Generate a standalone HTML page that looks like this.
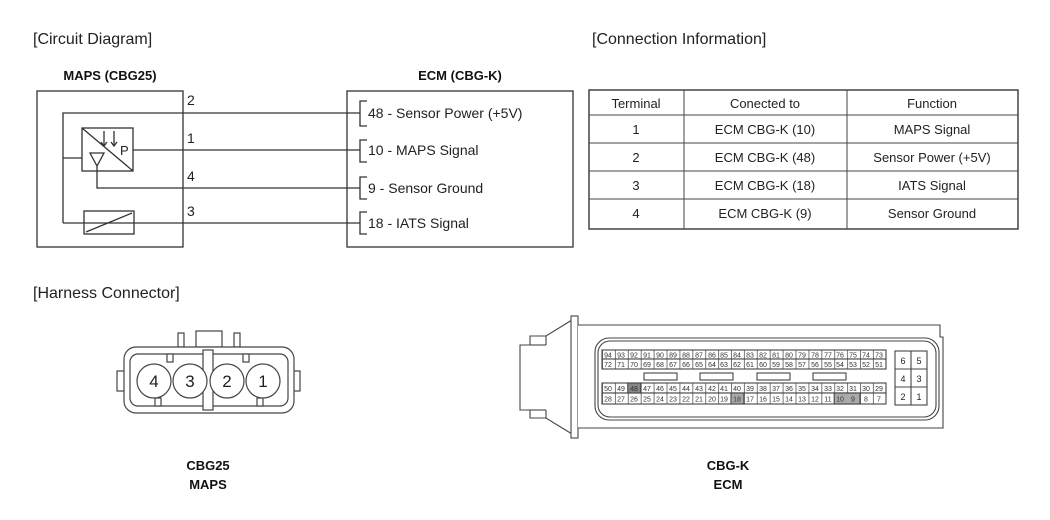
<!DOCTYPE html>
<html><head><meta charset="utf-8"><style>
html,body{margin:0;padding:0;background:#fff}
svg{display:block;font-family:"Liberation Sans",Arial,sans-serif}
</style></head><body>
<svg width="1050" height="520" viewBox="0 0 1050 520" xmlns="http://www.w3.org/2000/svg">
<defs>
<pattern id="vg" x="602" y="0" width="12.9" height="10" patternUnits="userSpaceOnUse">
<rect x="0" y="0" width="12.9" height="10" fill="#fff"/><line x1="0.5" y1="0" x2="0.5" y2="10" stroke="#555" stroke-width="0.8"/>
</pattern>
</defs>
<g fill="#222" font-size="16">
<text x="33" y="44">[Circuit Diagram]</text>
<text x="592" y="44">[Connection Information]</text>
<text x="33" y="298">[Harness Connector]</text>
</g>
<g font-weight="bold" font-size="13" fill="#111" text-anchor="middle">
<text x="110" y="80">MAPS (CBG25)</text>
<text x="460" y="80">ECM (CBG-K)</text>
<text x="208" y="470">CBG25</text><text x="208" y="489">MAPS</text>
<text x="728" y="470">CBG-K</text><text x="728" y="489">ECM</text>
</g>
<!-- circuit -->
<g stroke="#333" stroke-width="1.3" fill="none">
<rect x="37" y="91" width="146" height="156"/>
<rect x="347" y="91" width="226" height="156"/>
<polyline points="63,223 63,113 360,113"/>
<line x1="63" y1="158" x2="82" y2="158"/>
<rect x="82" y="128" width="51" height="43"/>
<line x1="82" y1="128" x2="133" y2="171"/>
<line x1="104" y1="131" x2="104" y2="146"/><line x1="114" y1="131" x2="114" y2="146"/>
<polyline points="101,142 104,146 107,142"/><polyline points="111,142 114,146 117,142"/>
<polygon points="90,153 104,153 97,166"/>
<polyline points="97,166 97,188 360,188"/>
<line x1="133" y1="150" x2="360" y2="150"/>
<rect x="84" y="211" width="50" height="23"/>
<line x1="86" y1="232" x2="132" y2="213"/>
<line x1="63" y1="223" x2="360" y2="223"/>
<polyline points="367,101 360,101 360,126 367,126"/>
<polyline points="367,140 360,140 360,162 367,162"/>
<polyline points="367,177 360,177 360,199 367,199"/>
<polyline points="367,212 360,212 360,234 367,234"/>
</g>
<g font-size="14" fill="#222">
<text x="187" y="105">2</text><text x="187" y="143">1</text><text x="187" y="181">4</text><text x="187" y="216">3</text>
<text x="120" y="155" font-size="13">P</text>
<text x="368" y="118">48 - Sensor Power (+5V)</text>
<text x="368" y="155">10 - MAPS Signal</text>
<text x="368" y="193">9 - Sensor Ground</text>
<text x="368" y="228">18 - IATS Signal</text>
</g>
<!-- table -->
<g stroke="#444" stroke-width="1" fill="none">
<rect x="589" y="90" width="429" height="139" stroke-width="1.5"/>
<line x1="589" y1="115" x2="1018" y2="115"/><line x1="589" y1="143" x2="1018" y2="143"/>
<line x1="589" y1="171" x2="1018" y2="171"/><line x1="589" y1="199" x2="1018" y2="199"/>
<line x1="684" y1="90" x2="684" y2="229"/><line x1="847" y1="90" x2="847" y2="229"/>
</g>
<g font-size="13" fill="#222" text-anchor="middle">
<text x="636" y="108">Terminal</text><text x="765" y="108">Conected to</text><text x="932" y="108">Function</text>
<text x="636" y="134">1</text><text x="765" y="134">ECM CBG-K (10)</text><text x="932" y="134">MAPS Signal</text>
<text x="636" y="162">2</text><text x="765" y="162">ECM CBG-K (48)</text><text x="932" y="162">Sensor Power (+5V)</text>
<text x="636" y="190">3</text><text x="765" y="190">ECM CBG-K (18)</text><text x="932" y="190">IATS Signal</text>
<text x="636" y="218">4</text><text x="765" y="218">ECM CBG-K (9)</text><text x="932" y="218">Sensor Ground</text>
</g>
<!-- MAPS connector -->
<g stroke="#444" stroke-width="1.2" fill="#fff">
<rect x="178" y="333" width="6" height="14"/><rect x="234" y="333" width="6" height="14"/>
<rect x="196" y="331" width="26" height="16"/>
<rect x="117" y="371" width="8" height="20"/><rect x="292" y="371" width="8" height="20"/>
<rect x="124" y="347" width="170" height="66" rx="12"/>
<rect x="130" y="354" width="158" height="52" rx="8"/>
<rect x="203" y="350" width="10" height="60"/>
<rect x="167" y="354" width="6" height="8"/><rect x="243" y="354" width="6" height="8"/>
<rect x="155" y="398" width="6" height="8"/><rect x="257" y="398" width="6" height="8"/>
<circle cx="154" cy="381" r="17"/><circle cx="190" cy="381" r="17"/>
<circle cx="227" cy="381" r="17"/><circle cx="263" cy="381" r="17"/>
</g>
<g font-size="17" fill="#222" text-anchor="middle">
<text x="154" y="387">4</text><text x="190" y="387">3</text><text x="227" y="387">2</text><text x="263" y="387">1</text>
</g>
<!-- ECM connector -->
<g stroke="#444" stroke-width="1.1" fill="#fff">
<polyline points="572,320 546,336 530,336 530,345 520,345 520,410 530,410 530,418 546,418 572,434"/>
<line x1="546" y1="336" x2="546" y2="345"/><line x1="530" y1="345" x2="546" y2="345"/>
<line x1="530" y1="410" x2="546" y2="410"/><line x1="546" y1="410" x2="546" y2="418"/>
<rect x="571" y="316" width="7" height="122"/>
<polyline points="578,325 940,325 940,337 943,337 943,428 578,428"/>
<rect x="595" y="338" width="344" height="82" rx="14"/>
<rect x="598" y="341" width="338" height="76" rx="12"/>
<rect x="602" y="350" width="284" height="9" fill="url(#vg)"/>
<rect x="602" y="359" width="284" height="10" fill="url(#vg)"/>
<rect x="602" y="383" width="284" height="10" fill="url(#vg)"/>
<rect x="602" y="393" width="284" height="11" fill="url(#vg)"/>
<rect x="644" y="373" width="33" height="7"/><rect x="700" y="373" width="33" height="7"/>
<rect x="757" y="373" width="33" height="7"/><rect x="813" y="373" width="33" height="7"/>
<rect x="627.8" y="383" width="12.9" height="10" fill="#888"/>
<rect x="731.0" y="393" width="12.9" height="11" fill="#aaa"/>
<rect x="834.2" y="393" width="25.8" height="11" fill="#aaa"/>
<rect x="895" y="351" width="32" height="54"/>
<line x1="911" y1="351" x2="911" y2="405"/><line x1="895" y1="369" x2="927" y2="369"/><line x1="895" y1="387" x2="927" y2="387"/>
</g>
<g font-size="7" fill="#333" text-anchor="middle">
<text y="357.5"><tspan x="608">94</tspan><tspan x="621">93</tspan><tspan x="634">92</tspan><tspan x="647">91</tspan><tspan x="660">90</tspan><tspan x="673">89</tspan><tspan x="686">88</tspan><tspan x="699">87</tspan><tspan x="712">86</tspan><tspan x="724">85</tspan><tspan x="737">84</tspan><tspan x="750">83</tspan><tspan x="763">82</tspan><tspan x="776">81</tspan><tspan x="789">80</tspan><tspan x="802">79</tspan><tspan x="815">78</tspan><tspan x="828">77</tspan><tspan x="840">76</tspan><tspan x="853">75</tspan><tspan x="866">74</tspan><tspan x="879">73</tspan></text>
<text y="367"><tspan x="608">72</tspan><tspan x="621">71</tspan><tspan x="634">70</tspan><tspan x="647">69</tspan><tspan x="660">68</tspan><tspan x="673">67</tspan><tspan x="686">66</tspan><tspan x="699">65</tspan><tspan x="712">64</tspan><tspan x="724">63</tspan><tspan x="737">62</tspan><tspan x="750">61</tspan><tspan x="763">60</tspan><tspan x="776">59</tspan><tspan x="789">58</tspan><tspan x="802">57</tspan><tspan x="815">56</tspan><tspan x="828">55</tspan><tspan x="840">54</tspan><tspan x="853">53</tspan><tspan x="866">52</tspan><tspan x="879">51</tspan></text>
<text y="391"><tspan x="608">50</tspan><tspan x="621">49</tspan><tspan x="634">48</tspan><tspan x="647">47</tspan><tspan x="660">46</tspan><tspan x="673">45</tspan><tspan x="686">44</tspan><tspan x="699">43</tspan><tspan x="712">42</tspan><tspan x="724">41</tspan><tspan x="737">40</tspan><tspan x="750">39</tspan><tspan x="763">38</tspan><tspan x="776">37</tspan><tspan x="789">36</tspan><tspan x="802">35</tspan><tspan x="815">34</tspan><tspan x="828">33</tspan><tspan x="840">32</tspan><tspan x="853">31</tspan><tspan x="866">30</tspan><tspan x="879">29</tspan></text>
<text y="401.5"><tspan x="608">28</tspan><tspan x="621">27</tspan><tspan x="634">26</tspan><tspan x="647">25</tspan><tspan x="660">24</tspan><tspan x="673">23</tspan><tspan x="686">22</tspan><tspan x="699">21</tspan><tspan x="712">20</tspan><tspan x="724">19</tspan><tspan x="737">18</tspan><tspan x="750">17</tspan><tspan x="763">16</tspan><tspan x="776">15</tspan><tspan x="789">14</tspan><tspan x="802">13</tspan><tspan x="815">12</tspan><tspan x="828">11</tspan><tspan x="840">10</tspan><tspan x="853">9</tspan><tspan x="866">8</tspan><tspan x="879">7</tspan></text>
</g>
<g font-size="9" fill="#222" text-anchor="middle">
<text x="903" y="364">6</text><text x="919" y="364">5</text>
<text x="903" y="382">4</text><text x="919" y="382">3</text>
<text x="903" y="400">2</text><text x="919" y="400">1</text>
</g>
</svg>
</body></html>
